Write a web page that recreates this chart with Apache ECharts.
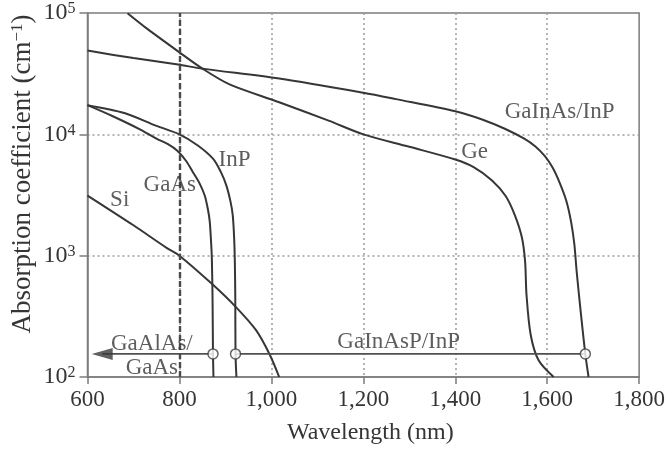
<!DOCTYPE html>
<html>
<head>
<meta charset="utf-8">
<script src="https://cdn.jsdelivr.net/npm/echarts@6/dist/echarts.min.js"></script>
<style>
html,body{margin:0;padding:0;background:#fff;}
#chart{width:668px;height:450px;}
</style>
</head>
<body>
<div id="chart"></div>
<script>
// ---- data (wavelength nm, absorption coefficient cm^-1) ----
const xTicks = [600, 800, 1000, 1200, 1400, 1600, 1800];
const yTickExponents = [2, 3, 4, 5];

const geData = [[687,99500],[728,75000],[797,48300],[850,34800],[909,25800],[1017,18400],[1126,12900],[1200,10000],[1300,7900],[1400,6200],[1440,5370],[1480,4170],[1510,3090],[1530,2140],[1545,1410],[1552,890],[1555,477],[1564,224],[1581,138],[1614,100]];
const gaInAsData = [[600,49000],[700,42500],[797,37600],[850,34800],[1017,28800],[1200,22000],[1271,19500],[1400,15500],[1460,13200],[1509,11060],[1550,9200],[1575,7900],[1595,6600],[1612,5300],[1627,4000],[1642,2800],[1652,1900],[1659,1250],[1664,750],[1672,373],[1683,154],[1690,100]];
const gaAsData = [[600,17400],[655,14100],[714,11000],[751,9170],[775,8300],[796,7300],[815,6000],[829,4900],[843,4000],[855,3130],[862,2400],[866,1900],[869,1260],[870.5,950],[872,450],[873,155],[874,100]];
const inPData = [[600,17400],[680,15000],[750,11750],[800,10000],[840,8100],[873,6300],[890,4900],[902,3800],[911,2800],[916,2150],[919,1400],[920.5,900],[921.5,450],[922,155],[924,100]];
const siData = [[600,3130],[700,1780],[772,1160],[800,1000],[873,575],[924,373],[967,242],[996,154],[1017,100]];

const cutoffMarkers = [[873,155],[922,155],[1683,155]];
const gaAlAsLine = [[632,155],[873,155]];
const arrowHead = [[632,155]];
const gaInAsPLine = [[922,155],[1683,155]];
const dashedWavelength = 800;

const curveLabels = [
  {name:'Ge', value:[1442,7180]},
  {name:'GaInAs/InP', value:[1627,15200]},
  {name:'InP', value:[920,6170]},
  {name:'GaAs', value:[779,3860]},
  {name:'Si', value:[670,2900]},
  {name:'GaInAsP/InP', value:[1277,193]},
  {name:'GaAlAs/\nGaAs', value:[740,148]}
];
const xAxisTitle = 'Wavelength (nm)';
const yAxisTitle = ['Absorption coefficient (cm', '\u22121', ')'];

// ---- chart ----
const FONT = "'Liberation Serif','Times New Roman',serif";
const TXT = '#353535';
const AX = '#7c7c7c';
const LINE = '#363636';
const chart = echarts.init(document.getElementById('chart'), null, {renderer:'canvas'});

function curve(name, data){
  return {name, type:'line', data, smooth:0.3, showSymbol:false, symbol:'none',
    lineStyle:{color:LINE, width:2}, z:3, silent:true, animation:false};
}

const option = {
  animation:false,
  backgroundColor:'#fff',
  grid:{left:87.5, right:27, top:13, bottom:70, show:true, borderColor:AX, borderWidth:1.5, backgroundColor:'transparent'},
  xAxis:{type:'value', min:600, max:1800, interval:200,
    name:xAxisTitle, nameLocation:'middle', nameGap:44,
    nameTextStyle:{fontFamily:FONT, fontSize:24, color:TXT, padding:[0,0,0,14]},
    axisLine:{show:true, lineStyle:{color:AX, width:1.5}},
    axisTick:{show:true, length:7, lineStyle:{color:AX, width:1.5}},
    axisLabel:{margin:11, fontFamily:FONT, fontSize:23, color:TXT,
      formatter:v => xTicks.includes(v) ? (v >= 1000 ? Math.floor(v/1000)+','+String(v%1000).padStart(3,'0') : String(v)) : ''},
    splitLine:{show:true, showMinLine:false, showMaxLine:false, lineStyle:{color:'#9c9c9c', width:1.5, type:[2,3]}}
  },
  yAxis:{type:'log', logBase:10, min:100, max:100000,
    axisLine:{show:true, lineStyle:{color:AX, width:1.5}},
    axisTick:{show:true, length:8, lineStyle:{color:AX, width:1.5}},
    axisLabel:{margin:12, color:TXT, fontFamily:FONT,
      formatter:v => { const e = Math.round(Math.log10(v)); return yTickExponents.includes(e) ? '{b|10}{s|'+e+'}' : ''; },
      rich:{b:{fontFamily:FONT, fontSize:24, color:TXT, lineHeight:24}, s:{fontFamily:FONT, fontSize:16, color:TXT, verticalAlign:'top', lineHeight:24, padding:[0,0,6,0]}}},
    splitLine:{show:true, showMinLine:false, showMaxLine:false, lineStyle:{color:'#9c9c9c', width:1.5, type:[2,3]}}
  },
  series:[
    {name:'dashed', type:'line', data:[], silent:true,
      markLine:{silent:true, symbol:['none','none'], label:{show:false},
        lineStyle:{color:'#4a4a4a', width:2.4, type:[6,3]},
        data:[{xAxis:dashedWavelength}]}, z:2},
    curve('Ge', geData),
    curve('GaInAs/InP', gaInAsData),
    curve('GaAs', gaAsData),
    curve('InP', inPData),
    curve('Si', siData),
    {name:'GaAlAs window', type:'line', data:gaAlAsLine, symbol:'none', lineStyle:{color:'#505050', width:1.6}, z:3, silent:true},
    {name:'GaInAsP window', type:'line', data:gaInAsPLine, symbol:'none', lineStyle:{color:'#505050', width:1.6}, z:3, silent:true},
    {name:'arrow', type:'scatter', data:arrowHead, symbol:'triangle', symbolRotate:90, symbolSize:[12,21],
      itemStyle:{color:'#383838'}, z:4, silent:true},
    {name:'cutoff', type:'scatter', data:cutoffMarkers, symbol:'circle', symbolSize:10,
      itemStyle:{color:'#fff', borderColor:'#404040', borderWidth:1.5}, z:5, silent:true},
    {name:'labels', type:'scatter', data:curveLabels, symbolSize:0, silent:true, z:6,
      label:{show:true, position:'inside', formatter:p => p.name, fontFamily:FONT, fontSize:23, color:TXT, lineHeight:24, align:'center'}}
  ],
  graphic:[{type:'text', x:23, y:174, rotation:Math.PI/2, silent:true,
    style:{x:0, y:0, text:'{a|'+yAxisTitle[0]+'}{s|'+yAxisTitle[1]+'}{a|'+yAxisTitle[2]+'}', align:'center', verticalAlign:'middle',
      rich:{a:{fontFamily:FONT, fontSize:27, fill:TXT, lineHeight:28}, s:{fontFamily:FONT, fontSize:17, fill:TXT, verticalAlign:'top', lineHeight:28}}}}]
};
chart.setOption(option);
</script>
</body>
</html>
